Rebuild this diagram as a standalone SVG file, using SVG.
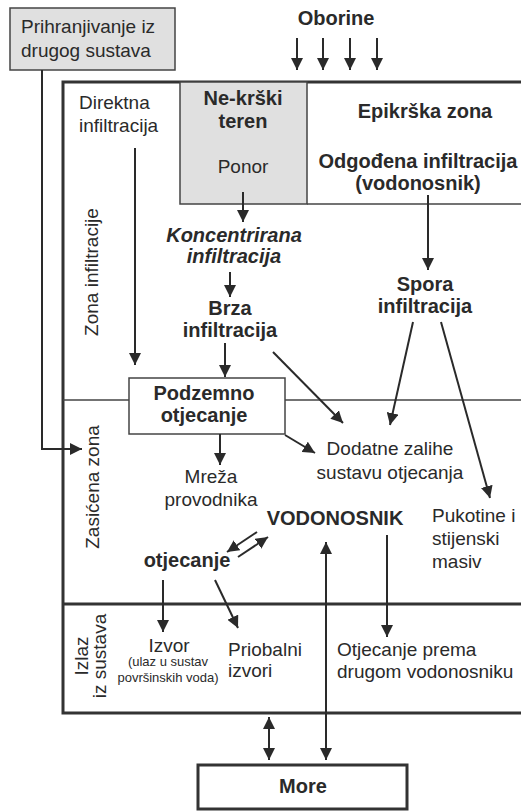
<svg xmlns="http://www.w3.org/2000/svg" width="521" height="812" viewBox="0 0 521 812">
<style>
text{font-family:"Liberation Sans",Arial,sans-serif;fill:#2a2a2a;font-size:19px}
.b{font-weight:bold;font-size:20px}
.c{text-anchor:middle}
.s{font-size:13px}
.bi{font-weight:bold;font-style:italic;font-size:20px}
.thick{fill:none;stroke:#333;stroke-width:3}
.thin{fill:none;stroke:#444;stroke-width:1.5}
.grey{fill:#e0e0e0;stroke:#444;stroke-width:1.5}
.con line,.con path{stroke:#2a2a2a;stroke-width:2;fill:none}
</style>
<defs>
<marker id="ah" viewBox="0 0 10 10" refX="10" refY="5" markerWidth="12" markerHeight="12" markerUnits="userSpaceOnUse" orient="auto-start-reverse">
<path d="M0,0 L10,5 L0,10 z" fill="#2a2a2a"/>
</marker>
</defs>
<rect width="521" height="812" fill="#fff"/>
<g id="frame">
<path class="thick" d="M530 82 H63 V713 H530"/>
<line class="thick" x1="63" y1="604" x2="530" y2="604"/>
<line class="thin" x1="63" y1="400" x2="129" y2="400"/>
<line class="thin" x1="285" y1="400" x2="530" y2="400"/>
<line class="thin" x1="307" y1="204" x2="530" y2="204"/>
</g>
<g id="prihranjivanje">
<rect class="grey" x="10" y="8" width="165" height="62"/>
<text x="21" y="33">Prihranjivanje iz</text>
<text x="21" y="57">drugog sustava</text>
</g>
<g id="oborine"><text class="b c" x="336" y="25">Oborine</text></g>
<g id="nekrski">
<rect class="grey" x="180" y="82" width="127" height="122"/>
<text class="b c" x="243" y="105">Ne-krški</text>
<text class="b c" x="243" y="128">teren</text>
<text class="c" x="243" y="173">Ponor</text>
</g>
<g id="direktna">
<text x="79" y="109">Direktna</text>
<text x="79" y="132">infiltracija</text>
</g>
<g id="epikrska">
<text class="b c" x="425" y="118">Epikrška zona</text>
<text class="b c" x="418" y="168">Odgođena infiltracija</text>
<text class="b c" x="418" y="190">(vodonosnik)</text>
</g>
<g id="zona-infiltracije"><text class="c" transform="translate(98,272) rotate(-90)">Zona infiltracije</text></g>
<g id="zasicena-zona"><text class="c" transform="translate(99,487) rotate(-90)">Zasićena zona</text></g>
<g id="izlaz">
<text class="c" transform="translate(88,656) rotate(-90)">Izlaz</text>
<text class="c" transform="translate(106,656) rotate(-90)">iz sustava</text>
</g>
<g id="koncentrirana">
<text class="bi c" x="234" y="242">Koncentrirana</text>
<text class="bi c" x="234" y="263">infiltracija</text>
</g>
<g id="brza">
<text class="b c" x="230" y="315">Brza</text>
<text class="b c" x="230" y="337">infiltracija</text>
</g>
<g id="spora">
<text class="b c" x="425" y="291">Spora</text>
<text class="b c" x="425" y="313">infiltracija</text>
</g>
<g id="podzemno">
<rect class="thin" x="129" y="378" width="156" height="56" fill="#fff"/>
<text class="b c" x="204" y="400">Podzemno</text>
<text class="b c" x="204" y="422">otjecanje</text>
</g>
<g id="mreza">
<text class="c" x="211" y="483">Mreža</text>
<text class="c" x="211" y="506">provodnika</text>
</g>
<g id="dodatne">
<text class="c" x="390" y="455">Dodatne zalihe</text>
<text class="c" x="390" y="479">sustavu otjecanja</text>
</g>
<g id="pukotine">
<text x="432" y="522">Pukotine i</text>
<text x="432" y="545">stijenski</text>
<text x="432" y="568">masiv</text>
</g>
<g id="vodonosnik"><text class="b c" x="335" y="525">VODONOSNIK</text></g>
<g id="otjecanje"><text class="b c" x="187" y="567">otjecanje</text></g>
<g id="izvor">
<text class="c" x="169" y="652">Izvor</text>
<text class="c s" x="168" y="666">(ulaz u sustav</text>
<text class="c s" x="168" y="682">površinskih voda)</text>
</g>
<g id="priobalni">
<text x="228" y="656">Priobalni</text>
<text x="228" y="677">izvori</text>
</g>
<g id="otjecanje-prema">
<text x="337" y="656">Otjecanje prema</text>
<text x="337" y="678">drugom vodonosniku</text>
</g>
<g id="more">
<rect class="thick" x="198" y="765" width="209" height="44" fill="#fff"/>
<text class="b c" x="303" y="793">More</text>
</g>
<g id="connectors" class="con">
<path d="M42 70 V449 H82" stroke-width="3" marker-end="url(#ah)"/>
<line x1="297" y1="38" x2="297" y2="70" marker-end="url(#ah)"/>
<line x1="323" y1="38" x2="323" y2="70" marker-end="url(#ah)"/>
<line x1="350" y1="38" x2="350" y2="70" marker-end="url(#ah)"/>
<line x1="377" y1="38" x2="377" y2="70" marker-end="url(#ah)"/>
<line x1="135" y1="148" x2="135" y2="365" marker-end="url(#ah)"/>
<line x1="243" y1="192" x2="243" y2="222" marker-end="url(#ah)"/>
<line x1="230" y1="272" x2="230" y2="297" marker-end="url(#ah)"/>
<line x1="225" y1="343" x2="225" y2="377" marker-end="url(#ah)"/>
<line x1="273" y1="352" x2="343" y2="423" marker-end="url(#ah)"/>
<line x1="428" y1="195" x2="428" y2="270" marker-end="url(#ah)"/>
<line x1="413" y1="322" x2="390" y2="425" marker-end="url(#ah)"/>
<line x1="441" y1="322" x2="490" y2="498" marker-end="url(#ah)"/>
<line x1="220" y1="434" x2="220" y2="465" marker-end="url(#ah)"/>
<line x1="285" y1="435" x2="315" y2="453" marker-end="url(#ah)"/>
<line x1="257" y1="532" x2="227" y2="552" marker-end="url(#ah)"/>
<line x1="238" y1="557" x2="268" y2="537" marker-end="url(#ah)"/>
<line x1="326" y1="542" x2="326" y2="760" marker-start="url(#ah)" marker-end="url(#ah)"/>
<line x1="387" y1="535" x2="387" y2="637" marker-end="url(#ah)"/>
<line x1="163" y1="580" x2="163" y2="632" marker-end="url(#ah)"/>
<line x1="215" y1="580" x2="238" y2="628" marker-end="url(#ah)"/>
<line x1="269" y1="717" x2="269" y2="760" marker-start="url(#ah)" marker-end="url(#ah)"/>
</g>
</svg>
